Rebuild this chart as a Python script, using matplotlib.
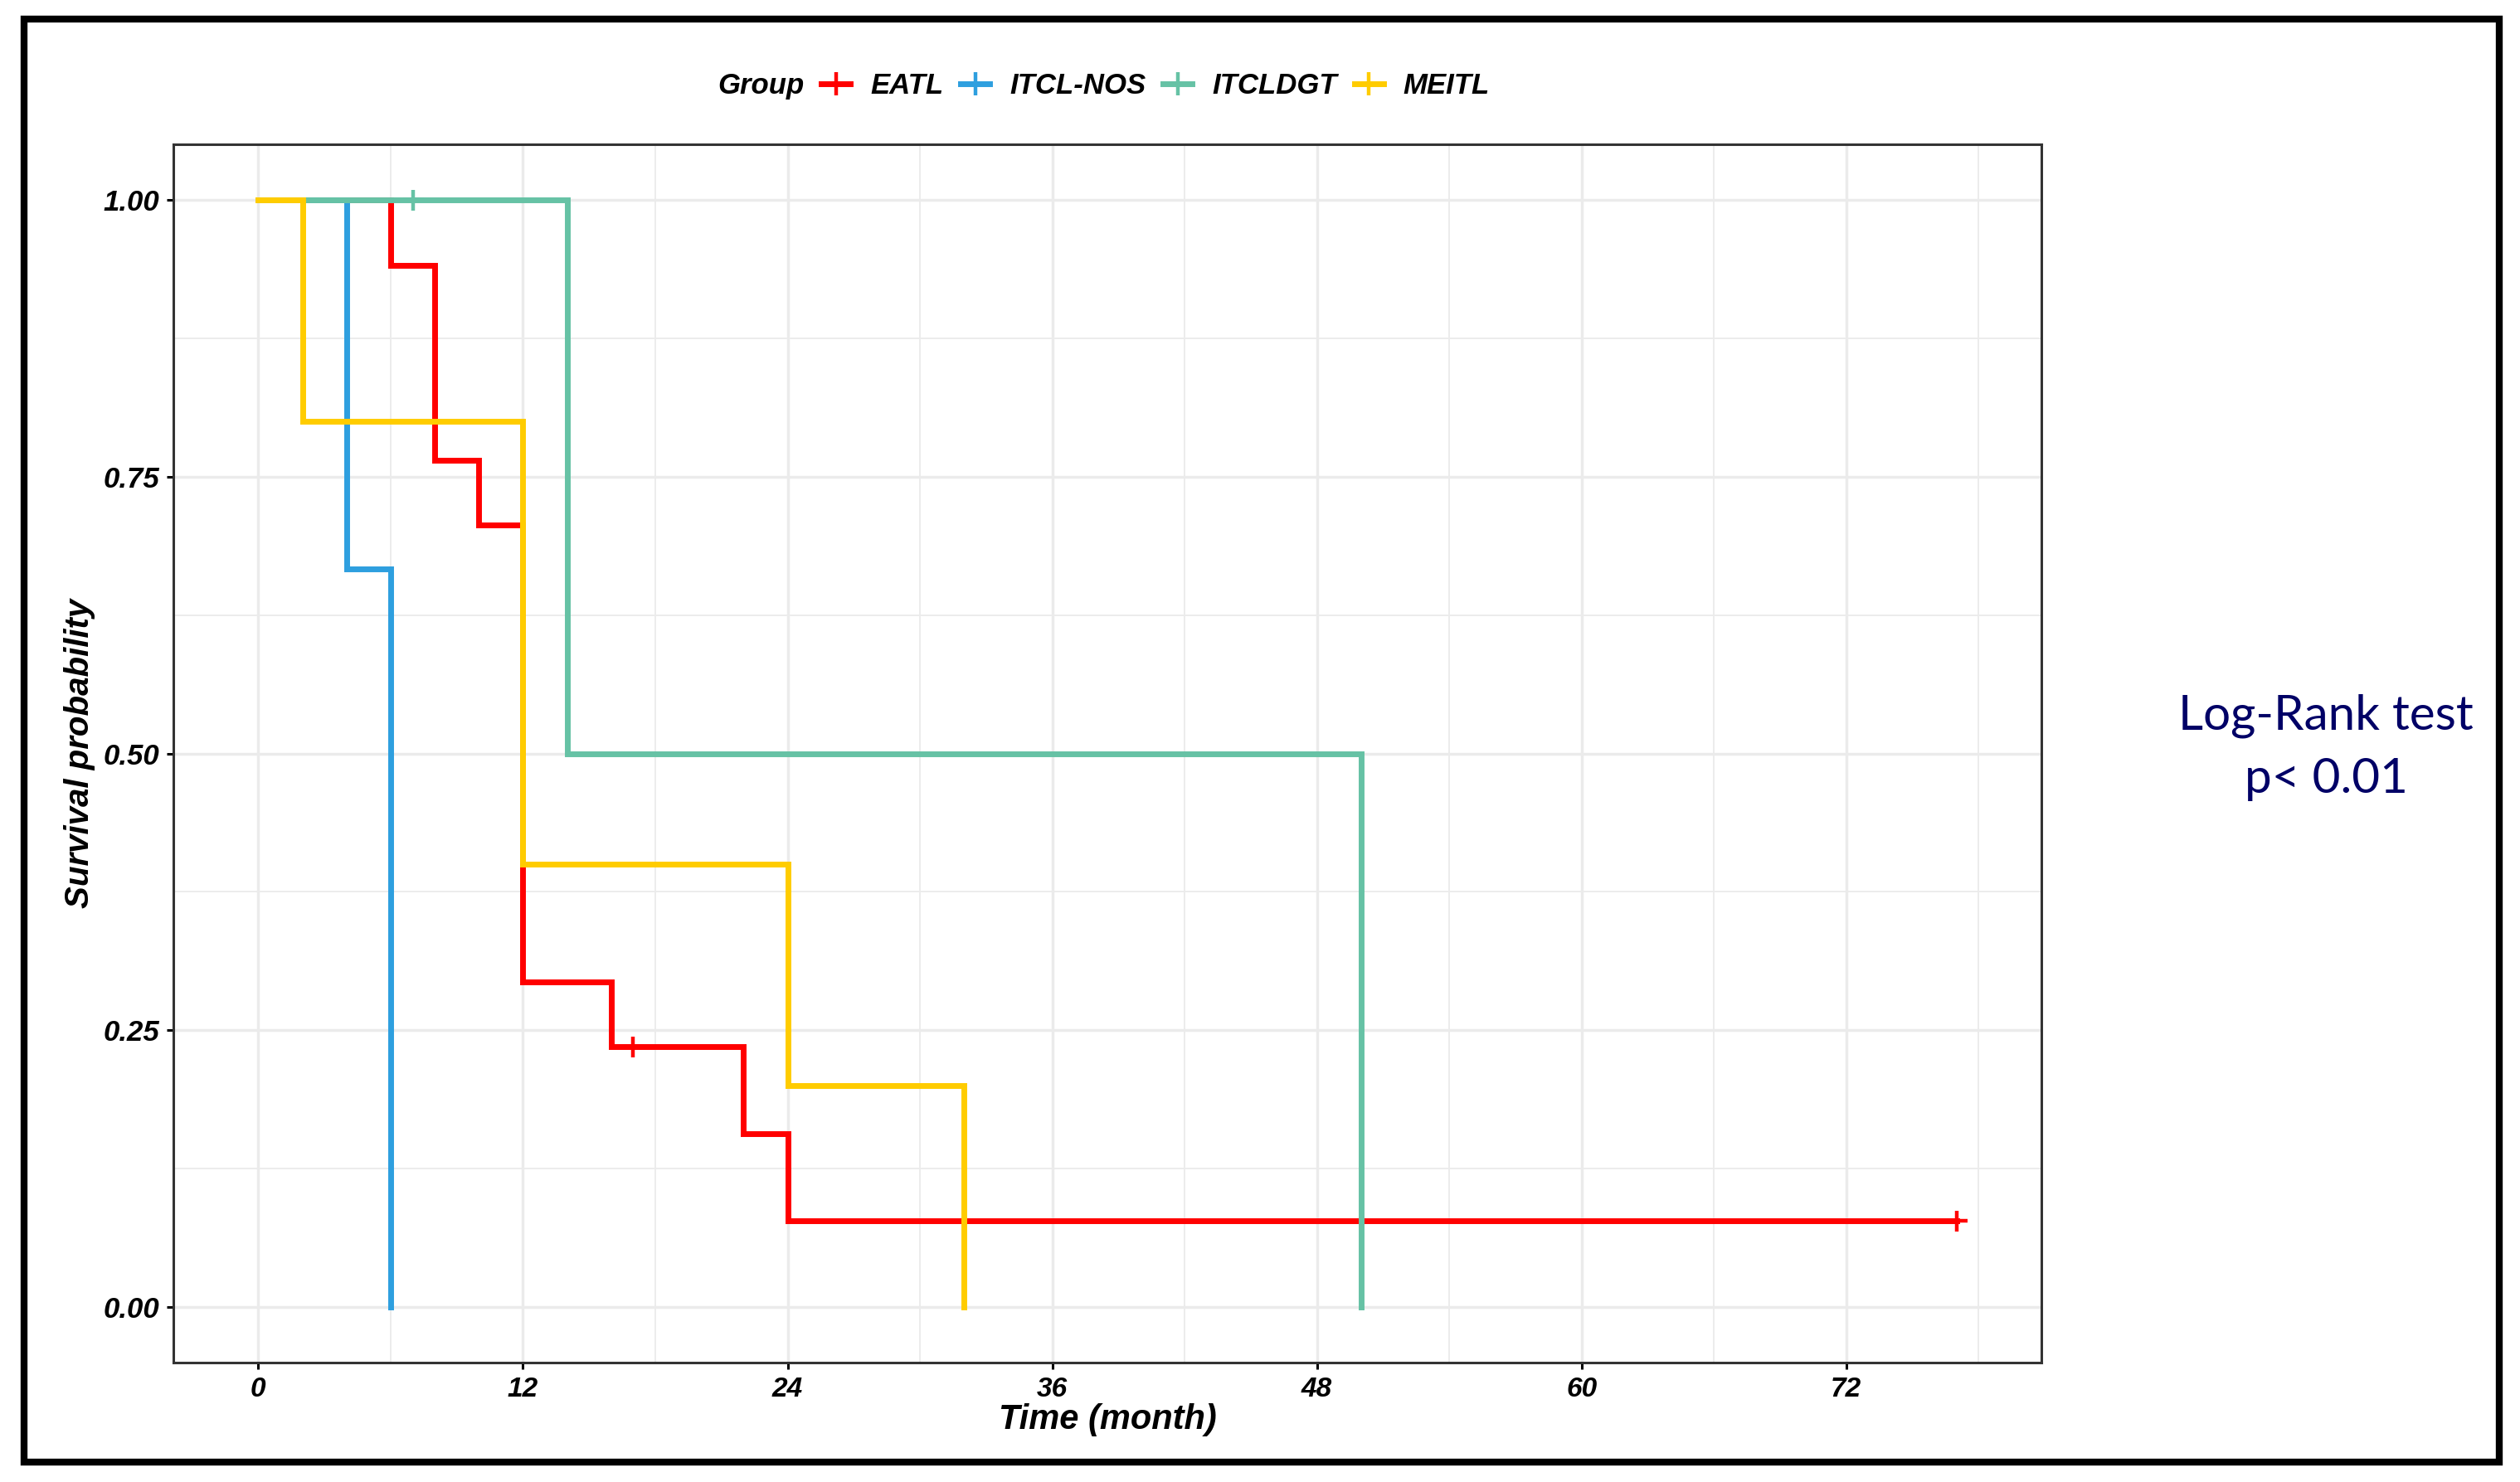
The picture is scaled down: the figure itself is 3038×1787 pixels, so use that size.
"""Kaplan-Meier overall survival by lymphoma group, with log-rank annotation."""
import matplotlib
matplotlib.use("Agg")
import matplotlib.pyplot as plt
from matplotlib.lines import Line2D
from matplotlib.patches import Rectangle
from matplotlib.ticker import MultipleLocator

# step data (time in months, survival probability)
groups = ["EATL", "ITCL-NOS", "ITCLDGT", "MEITL"]
colors = ["#FF0000", "#2E9FDF", "#66C2A5", "#FFCC00"]

eatl_t = [0, 6, 8, 10, 12, 16, 22, 24, 77]
eatl_s = [1.0, 0.941, 0.765, 0.706, 0.294, 0.235, 0.157, 0.078, 0.078]
eatl_cens_t = [17, 77]
eatl_cens_s = [0.235, 0.078]

nos_t = [0, 4, 6]
nos_s = [1.0, 0.667, 0.0]
nos_cens_t = []
nos_cens_s = []

dgt_t = [0, 14, 50]
dgt_s = [1.0, 0.5, 0.0]
dgt_cens_t = [7]
dgt_cens_s = [1.0]

meitl_t = [0, 2, 12, 24, 32]
meitl_s = [1.0, 0.8, 0.4, 0.2, 0.0]
meitl_cens_t = []
meitl_cens_s = []

x_ticks = [0, 12, 24, 36, 48, 60, 72]
y_ticks = [0.00, 0.25, 0.50, 0.75, 1.00]
y_tick_labels = ["0.00", "0.25", "0.50", "0.75", "1.00"]

FONT = ["Liberation Sans", "DejaVu Sans"]
BI = {"family": FONT, "fontweight": "bold", "fontstyle": "italic"}

curves = [
    (eatl_t, eatl_s, eatl_cens_t, eatl_cens_s),
    (nos_t, nos_s, nos_cens_t, nos_cens_s),
    (dgt_t, dgt_s, dgt_cens_t, dgt_cens_s),
    (meitl_t, meitl_s, meitl_cens_t, meitl_cens_s),
]

fig = plt.figure(figsize=(15.19, 8.935), dpi=200)
ax = fig.add_axes([0.0688, 0.0806, 0.7413, 0.822])

for (t, s, ct, cs), col in zip(curves, colors):
    ax.step(t, s, where="post", color=col, linewidth=2.5, solid_joinstyle="miter")
    if ct:
        ax.plot(ct, cs, linestyle="none", marker="+", markersize=9,
                markeredgewidth=1.6, color=col)

ax.set_xlim(-3.85, 80.85)
ax.set_ylim(-0.05, 1.05)
ax.set_xticks(x_ticks)
ax.set_yticks(y_ticks)
ax.set_yticklabels(y_tick_labels)
ax.xaxis.set_minor_locator(MultipleLocator(6))
ax.yaxis.set_minor_locator(MultipleLocator(0.125))

ax.grid(which="major", color="#EBEBEB", linewidth=1.25)
ax.grid(which="minor", color="#EBEBEB", linewidth=0.65)
ax.set_axisbelow(True)
ax.tick_params(which="minor", length=0)
ax.tick_params(which="major", length=3, width=1.1, color="black", pad=3)
for sp in ax.spines.values():
    sp.set_color("#333333")
    sp.set_linewidth(1.1)

for lab in ax.get_xticklabels():
    lab.set_fontsize(12)
    lab.update(BI)
for lab in ax.get_yticklabels():
    lab.set_fontsize(12.5)
    lab.update(BI)

ax.set_xlabel("Time (month)", fontsize=15, va="center", **BI)
ax.xaxis.set_label_coords(0.5, -0.047)
ax.set_ylabel("Survival probability", fontsize=14.5, va="center", **BI)
ax.yaxis.set_label_coords(-0.05, 0.5)

# legend across the top
handles = [Line2D([], [], color=c, linewidth=2.5, marker="|", markersize=10,
                  markeredgewidth=1.6) for c in colors]
fig.legend(handles, groups, loc="center left", bbox_to_anchor=(0.326, 0.942),
           ncol=4, frameon=False, handlelength=1.0, handletextpad=0.7,
           columnspacing=0.6, borderpad=0, borderaxespad=0,
           prop={"family": FONT, "size": 12.5, "weight": "bold", "style": "italic"})
fig.text(0.319, 0.942, "Group", ha="right", va="center", fontsize=12.5, **BI)

fig.text(0.923, 0.4957, "Log-Rank test\np< 0.01", ha="center", va="center",
         family=["Lato", "DejaVu Sans"], fontsize=21, color="#000066",
         linespacing=1.55)

# outer frame
fig.patches.append(Rectangle((0.0095, 0.0134), 0.9823, 0.9737, transform=fig.transFigure,
                             fill=False, edgecolor="black", linewidth=3))

fig.savefig("out.png", dpi=200)
